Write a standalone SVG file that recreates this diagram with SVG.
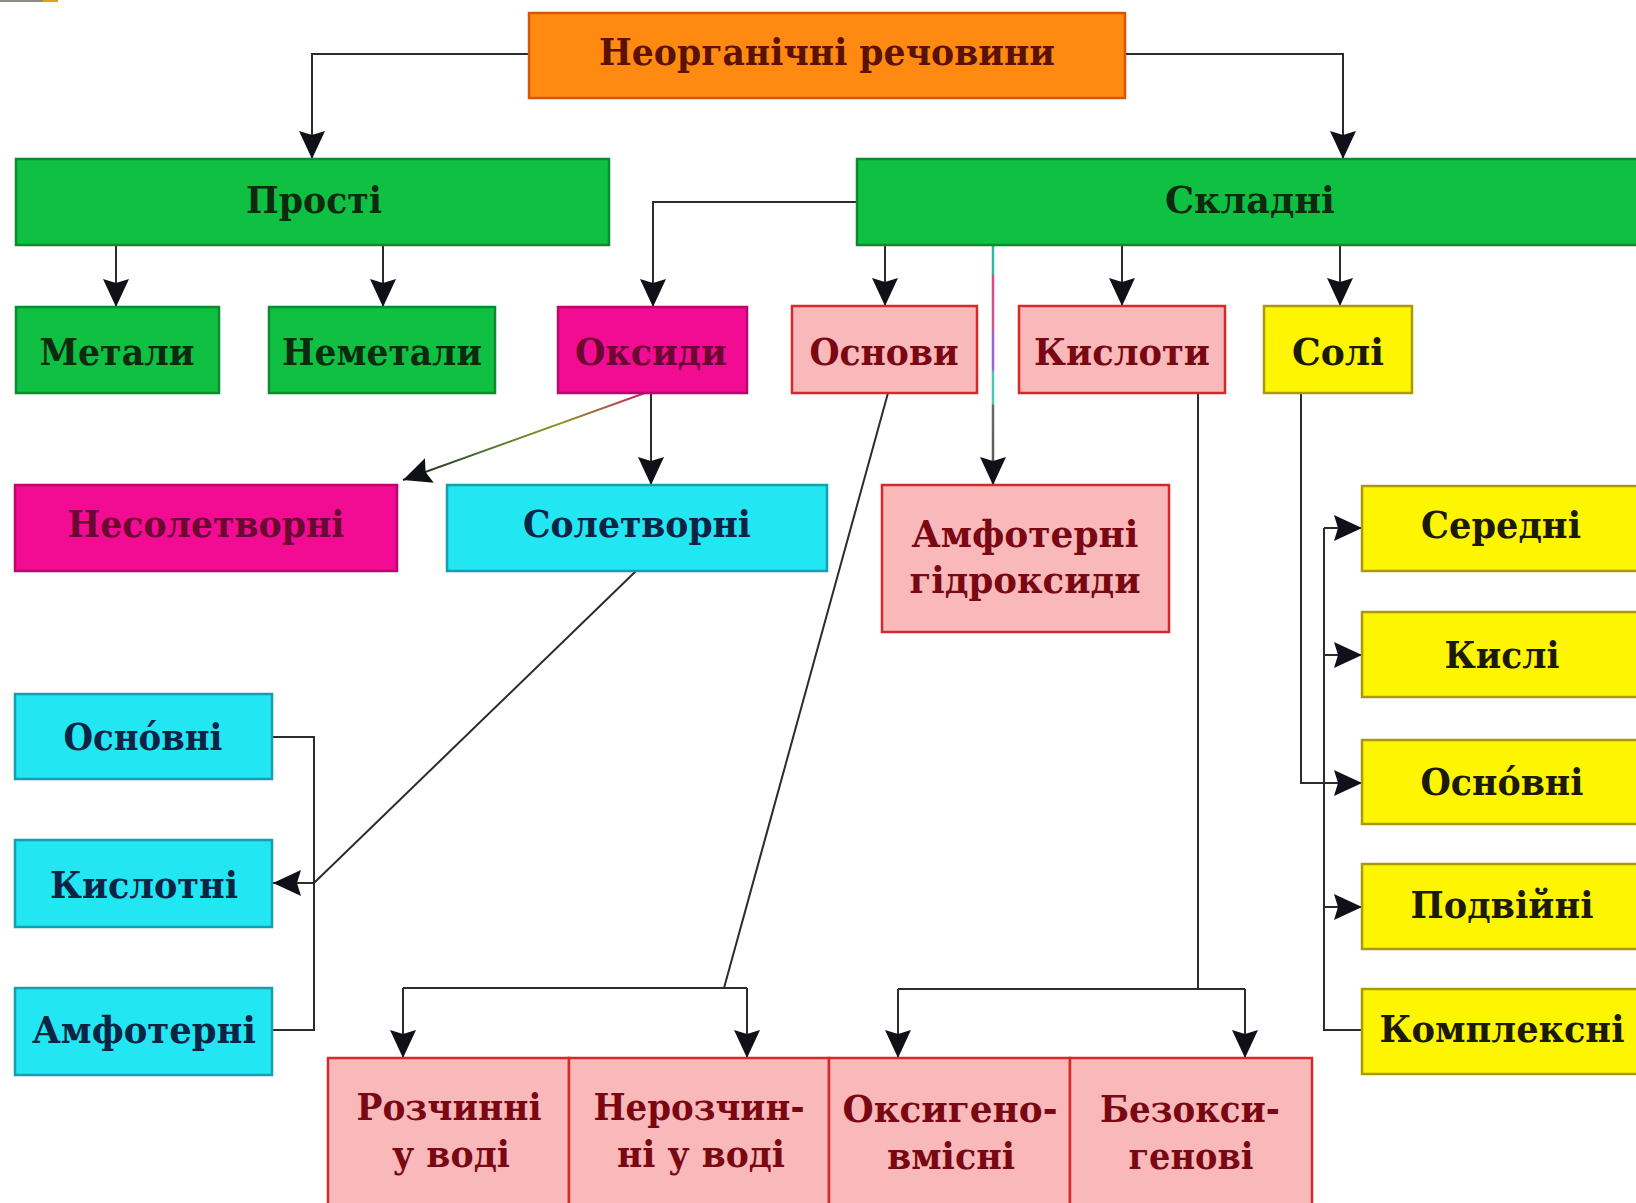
<svg xmlns="http://www.w3.org/2000/svg" width="1636" height="1203" viewBox="0 0 1636 1203">
<style>
  text { font-family: "DejaVu Serif", "Liberation Serif", serif; font-weight: bold; font-size: 37px; text-anchor: middle; }
  .orange { fill: #ff8a12; stroke: #d2560c; stroke-width: 2.5; }
  .green { fill: #10c043; stroke: #0b8a2e; stroke-width: 2.5; }
  .magenta { fill: #f20c93; stroke: #b8086c; stroke-width: 2.5; }
  .pink { fill: #f9b8ba; stroke: #d42a2a; stroke-width: 2.5; }
  .yellow { fill: #fdf600; stroke: #a89a08; stroke-width: 2.5; }
  .cyan { fill: #22e6f2; stroke: #12a0b0; stroke-width: 2.5; }
  .t-root { fill: #5a1204; }
  .t-green { fill: #0c2a10; }
  .t-mag { fill: #6a0830; }
  .t-pink { fill: #7a0812; }
  .t-yellow { fill: #1c1a04; }
  .t-cyan { fill: #0c2444; }
  .conn path { fill: none; stroke: #2c2c2c; stroke-width: 2; }
</style>
<defs>
  <marker id="arr" markerUnits="userSpaceOnUse" markerWidth="30" markerHeight="28" refX="28" refY="13" orient="auto">
    <path d="M0,0 L28,13 L0,26 L4,13 z" fill="#101018"/>
  </marker>
  <linearGradient id="gAmph" gradientUnits="userSpaceOnUse" x1="0" y1="245" x2="0" y2="485">
    <stop offset="0" stop-color="#2fb8a4"/>
    <stop offset="0.12" stop-color="#2fb8a4"/>
    <stop offset="0.13" stop-color="#dc4a82"/>
    <stop offset="0.36" stop-color="#c85890"/>
    <stop offset="0.37" stop-color="#9a64d4"/>
    <stop offset="0.52" stop-color="#9a64d4"/>
    <stop offset="0.53" stop-color="#4cc8b6"/>
    <stop offset="0.66" stop-color="#4cc8b6"/>
    <stop offset="0.67" stop-color="#6a6a6a"/>
    <stop offset="1" stop-color="#555555"/>
  </linearGradient>
  <linearGradient id="gDiag" gradientUnits="userSpaceOnUse" x1="645" y1="393" x2="403" y2="480">
    <stop offset="0" stop-color="#c02a60"/>
    <stop offset="0.35" stop-color="#8a9a20"/>
    <stop offset="0.7" stop-color="#4a6a30"/>
    <stop offset="1" stop-color="#202020"/>
  </linearGradient>
</defs>
<rect width="1636" height="1203" fill="#ffffff"/>
<rect x="0" y="0" width="43" height="2" fill="#8a8a80"/>
<rect x="43" y="0" width="15" height="2" fill="#e0a020"/>

<g class="conn">
  <path d="M529,54 H312 V159" marker-end="url(#arr)"/>
  <path d="M1125,54 H1343 V159" marker-end="url(#arr)"/>
  <path d="M116,245 V307" marker-end="url(#arr)"/>
  <path d="M383,245 V307" marker-end="url(#arr)"/>
  <path d="M857,202 H653 V307" marker-end="url(#arr)"/>
  <path d="M885,245 V306" marker-end="url(#arr)"/>
  <path d="M993,245 V485" marker-end="url(#arr)" style="stroke:url(#gAmph);stroke-width:2.5"/>
  <path d="M1122,245 V306" marker-end="url(#arr)"/>
  <path d="M1340,245 V306" marker-end="url(#arr)"/>
  <path d="M645,393 L403,480" marker-end="url(#arr)" style="stroke:url(#gDiag)"/>
  <path d="M651,393 V485" marker-end="url(#arr)"/>
  <path d="M636,571 L314,883 H273" marker-end="url(#arr)"/>
  <path d="M272,737 H314 V1030 H272"/>
  <path d="M888,393 L724,988"/>
  <path d="M403,988 H747"/>
  <path d="M403,988 V1058" marker-end="url(#arr)"/>
  <path d="M747,988 V1058" marker-end="url(#arr)"/>
  <path d="M1198,393 V989"/>
  <path d="M898,989 H1245"/>
  <path d="M898,989 V1058" marker-end="url(#arr)"/>
  <path d="M1245,989 V1058" marker-end="url(#arr)"/>
  <path d="M1301,393 V783 H1362" marker-end="url(#arr)"/>
  <path d="M1324,528 V1030 H1362"/>
  <path d="M1324,528 H1362" marker-end="url(#arr)"/>
  <path d="M1324,655 H1362" marker-end="url(#arr)"/>
  <path d="M1324,907 H1362" marker-end="url(#arr)"/>
</g>

<g id="root"><rect class="orange" x="529" y="13" width="596" height="85"/><text class="t-root" x="827" y="65" textLength="456" lengthAdjust="spacingAndGlyphs">Неорганічні речовини</text></g>
<g id="prosti"><rect class="green" x="16" y="159" width="593" height="86"/><text class="t-green" x="314" y="213" textLength="136" lengthAdjust="spacingAndGlyphs">Прості</text></g>
<g id="skladni"><rect class="green" x="857" y="159" width="782" height="86"/><text class="t-green" x="1250" y="213" textLength="170" lengthAdjust="spacingAndGlyphs">Складні</text></g>
<g id="metaly"><rect class="green" x="16" y="307" width="203" height="86"/><text class="t-green" x="117" y="365" textLength="155" lengthAdjust="spacingAndGlyphs">Метали</text></g>
<g id="nemetaly"><rect class="green" x="269" y="307" width="226" height="86"/><text class="t-green" x="382" y="365" textLength="200" lengthAdjust="spacingAndGlyphs">Неметали</text></g>
<g id="oksydy"><rect class="magenta" x="558" y="307" width="189" height="86"/><text class="t-mag" x="651" y="365" textLength="152" lengthAdjust="spacingAndGlyphs">Оксиди</text></g>
<g id="osnovy"><rect class="pink" x="792" y="306" width="185" height="87"/><text class="t-pink" x="884" y="365" textLength="149" lengthAdjust="spacingAndGlyphs">Основи</text></g>
<g id="kysloty"><rect class="pink" x="1019" y="306" width="206" height="87"/><text class="t-pink" x="1122" y="365" textLength="176" lengthAdjust="spacingAndGlyphs">Кислоти</text></g>
<g id="soli"><rect class="yellow" x="1264" y="306" width="148" height="87"/><text class="t-yellow" x="1338" y="365" textLength="92" lengthAdjust="spacingAndGlyphs">Солі</text></g>
<g id="nesoletvorni"><rect class="magenta" x="15" y="485" width="382" height="86"/><text class="t-mag" x="206" y="537" textLength="277" lengthAdjust="spacingAndGlyphs">Несолетворні</text></g>
<g id="soletvorni"><rect class="cyan" x="447" y="485" width="380" height="86"/><text class="t-cyan" x="637" y="537" textLength="228" lengthAdjust="spacingAndGlyphs">Солетворні</text></g>
<g id="amf-gidroksydy"><rect class="pink" x="882" y="485" width="287" height="147"/><text class="t-pink" x="1025" y="547" textLength="227" lengthAdjust="spacingAndGlyphs">Амфотерні</text><text class="t-pink" x="1025" y="593" textLength="231" lengthAdjust="spacingAndGlyphs">гідроксиди</text></g>
<g id="ox-osnovni"><rect class="cyan" x="15" y="694" width="257" height="85"/><text class="t-cyan" x="143" y="750" textLength="159" lengthAdjust="spacingAndGlyphs">Осно́вні</text></g>
<g id="ox-kyslotni"><rect class="cyan" x="15" y="840" width="257" height="87"/><text class="t-cyan" x="144" y="898" textLength="188" lengthAdjust="spacingAndGlyphs">Кислотні</text></g>
<g id="ox-amfoterni"><rect class="cyan" x="15" y="988" width="257" height="87"/><text class="t-cyan" x="144" y="1043" textLength="224" lengthAdjust="spacingAndGlyphs">Амфотерні</text></g>
<g id="s-seredni"><rect class="yellow" x="1362" y="486" width="279" height="85"/><text class="t-yellow" x="1501" y="538" textLength="160" lengthAdjust="spacingAndGlyphs">Середні</text></g>
<g id="s-kysli"><rect class="yellow" x="1362" y="612" width="279" height="85"/><text class="t-yellow" x="1502" y="668" textLength="115" lengthAdjust="spacingAndGlyphs">Кислі</text></g>
<g id="s-osnovni"><rect class="yellow" x="1362" y="740" width="279" height="84"/><text class="t-yellow" x="1502" y="795" textLength="163" lengthAdjust="spacingAndGlyphs">Осно́вні</text></g>
<g id="s-podviini"><rect class="yellow" x="1362" y="864" width="279" height="85"/><text class="t-yellow" x="1502" y="918" textLength="183" lengthAdjust="spacingAndGlyphs">Подвійні</text></g>
<g id="s-kompleksni"><rect class="yellow" x="1362" y="989" width="279" height="85"/><text class="t-yellow" x="1502" y="1042" textLength="245" lengthAdjust="spacingAndGlyphs">Комплексні</text></g>
<g id="rozchynni"><rect class="pink" x="328" y="1058" width="241" height="170"/><text class="t-pink" x="449" y="1120" textLength="185" lengthAdjust="spacingAndGlyphs">Розчинні</text><text class="t-pink" x="451" y="1167" textLength="118" lengthAdjust="spacingAndGlyphs">у воді</text></g>
<g id="nerozchynni"><rect class="pink" x="569" y="1058" width="260" height="170"/><text class="t-pink" x="699" y="1120" textLength="211" lengthAdjust="spacingAndGlyphs">Нерозчин-</text><text class="t-pink" x="701" y="1167" textLength="168" lengthAdjust="spacingAndGlyphs">ні у воді</text></g>
<g id="oksygenovmisni"><rect class="pink" x="829" y="1058" width="241" height="170"/><text class="t-pink" x="950" y="1122" textLength="215" lengthAdjust="spacingAndGlyphs">Оксигено-</text><text class="t-pink" x="951" y="1169" textLength="128" lengthAdjust="spacingAndGlyphs">вмісні</text></g>
<g id="bezoksygenovi"><rect class="pink" x="1070" y="1058" width="242" height="170"/><text class="t-pink" x="1190" y="1122" textLength="180" lengthAdjust="spacingAndGlyphs">Безокси-</text><text class="t-pink" x="1191" y="1169" textLength="125" lengthAdjust="spacingAndGlyphs">генові</text></g>
</svg>
